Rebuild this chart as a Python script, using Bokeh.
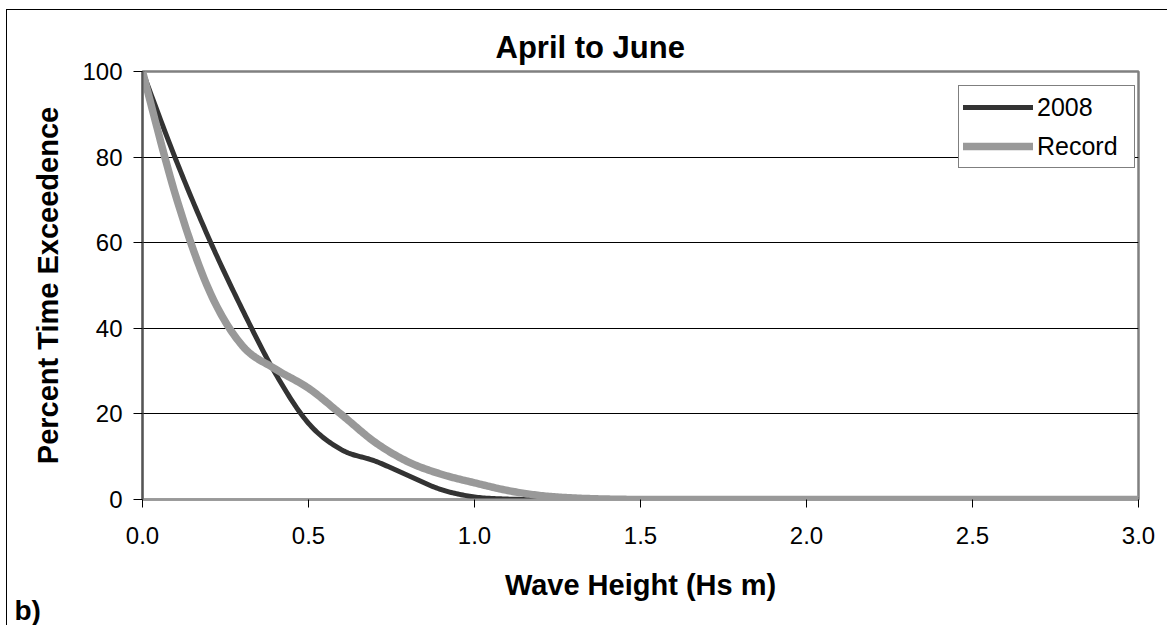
import numpy as np
from bokeh.plotting import figure
from bokeh.models import Legend, LegendItem, FixedTicker, Range1d, NumeralTickFormatter, Title
from bokeh.embed import file_html
from bokeh.resources import INLINE

# ---- data ----
wave_height = [0.0, 0.1, 0.2, 0.3, 0.4, 0.5, 0.6, 0.7, 0.8, 0.9,
               1.0, 1.1, 1.2, 1.3, 1.4, 1.5, 1.6, 1.7, 1.8, 1.9,
               2.0, 2.1, 2.2, 2.3, 2.4, 2.5, 2.6, 2.7, 2.8, 2.9, 3.0]
pct_2008 = [100, 79.5, 61, 44.5, 29.5, 17.8, 11.6, 9.0, 5.6, 2.3,
            0.6, 0.1, 0, 0, 0, 0, 0, 0, 0, 0,
            0, 0, 0, 0, 0, 0, 0, 0, 0, 0, 0]
pct_record = [100, 71, 49, 36, 30.5, 26, 19.8, 13.4, 8.8, 5.9,
              3.9, 2.1, 0.9, 0.35, 0.1, 0, 0, 0, 0, 0,
              0, 0, 0, 0, 0, 0, 0, 0, 0, 0, 0]
series_names = ["2008", "Record"]
x_ticks = [0.0, 0.5, 1.0, 1.5, 2.0, 2.5, 3.0]
y_ticks = [0, 20, 40, 60, 80, 100]
title_text = "April to June"
x_label = "Wave Height (Hs m)"
y_label = "Percent Time Exceedence"
panel_tag = "b)"

FONT = "Liberation Sans"


def smooth(xs, ys, n=20):
    """Excel-like smoothed line (Catmull-Rom Bezier through the data points)."""
    P = np.column_stack([xs, ys]).astype(float)
    m = len(P)
    ox, oy = [], []
    for i in range(m - 1):
        p0 = P[i - 1] if i > 0 else P[i]
        p1 = P[i]
        p2 = P[i + 1]
        p3 = P[i + 2] if i + 2 < m else P[i + 1]
        c1 = p1 + (p2 - p0) / 6.0
        c2 = p2 - (p3 - p1) / 6.0
        t = np.linspace(0, 1, n, endpoint=(i == m - 2))[:, None]
        pts = ((1 - t) ** 3) * p1 + 3 * ((1 - t) ** 2) * t * c1 + 3 * (1 - t) * t ** 2 * c2 + t ** 3 * p2
        ox.extend(pts[:, 0])
        oy.extend(pts[:, 1])
    return ox, oy


p = figure(frame_width=996, frame_height=428,
           min_border_left=135, min_border_right=29,
           min_border_top=61, min_border_bottom=126,
           x_range=Range1d(0, 3), y_range=Range1d(0, 100),
           output_backend="svg", toolbar_location=None,
           background_fill_color="white", border_fill_color="white")
p.styles = {"border-left": "1px solid black", "border-top": "1px solid black",
            "margin-left": "6px", "margin-top": "9px"}

p.outline_line_color = "#808080"
p.outline_line_width = 2.5

# title
p.title.text = title_text
p.title.align = "left"
p.title.offset = 353
p.title.text_font = FONT
p.title.text_font_style = "bold"
p.title.text_font_size = "31px"
p.title.text_color = "black"
p.title.standoff = 14

p.xgrid.visible = False
p.ygrid.ticker = FixedTicker(ticks=[20, 40, 60, 80])
p.ygrid.grid_line_color = "black"
p.ygrid.grid_line_width = 1

p.yaxis.ticker = FixedTicker(ticks=y_ticks)
p.xaxis.ticker = FixedTicker(ticks=x_ticks)
p.xaxis.formatter = NumeralTickFormatter(format="0.0")
for ax in (p.xaxis[0], p.yaxis[0]):
    ax.axis_line_color = "#555555"
    ax.axis_line_width = 2
    ax.major_tick_line_color = "black"
    ax.major_tick_line_width = 1
    ax.major_tick_in = 0
    ax.minor_tick_line_color = None
    ax.major_label_text_font = FONT
    ax.major_label_text_font_size = "24px"
    ax.major_label_text_color = "black"
    ax.axis_label_text_font = FONT
    ax.axis_label_text_font_style = "bold"
    ax.axis_label_text_font_size = "29px"
    ax.axis_label_text_color = "black"
p.yaxis.major_tick_out = 9
p.yaxis.major_label_standoff = 11
p.yaxis.axis_label = y_label
p.yaxis.axis_label_standoff = 15
p.xaxis.major_tick_out = 8
p.xaxis.major_label_standoff = 19
p.xaxis.axis_line_color = "#999999"

sx1, sy1 = smooth(wave_height, pct_2008)
sx2, sy2 = smooth(wave_height, pct_record)
r1 = p.line(sx1, sy1, line_color="#333333", line_width=5, line_join="round", line_cap="round")
r2 = p.line(sx2, sy2, line_color="#999999", line_width=7.5, line_join="round", line_cap="round")

legend = Legend(items=[LegendItem(label=series_names[0], renderers=[r1]),
                       LegendItem(label=series_names[1], renderers=[r2])],
                location=(816, 331), glyph_width=70, glyph_height=34, label_height=34,
                label_width=93, spacing=5, padding=4, label_standoff=4, margin=0,
                border_line_color="black", border_line_width=1,
                background_fill_color="white", background_fill_alpha=1,
                label_text_font=FONT, label_text_font_size="25px", label_text_color="black")
p.add_layout(legend)

# x-axis label and panel tag as titles below the axis
xl = Title(text=x_label, align="center", text_font=FONT, text_font_style="bold",
           text_font_size="29px", text_color="black", standoff=40)
p.add_layout(xl, "below")
tag = Title(text=panel_tag, align="left", offset=-128, vertical_align="top",
            text_font=FONT, text_font_style="bold",
            text_font_size="28px", text_color="black", standoff=-52)
p.add_layout(tag, "below")

open("out.html", "w").write(file_html(p, INLINE))
